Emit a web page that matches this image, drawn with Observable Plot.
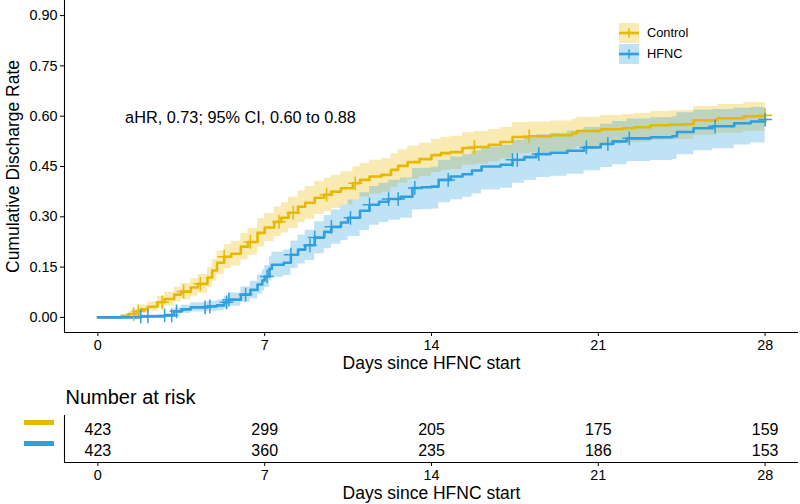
<!DOCTYPE html>
<html><head><meta charset="utf-8">
<script src="https://cdn.jsdelivr.net/npm/d3@7"></script>
<script src="https://cdn.jsdelivr.net/npm/@observablehq/plot@0.6"></script>
<style>
body{margin:0;background:#fff;font-family:"Liberation Sans",Arial,sans-serif;}
#wrap{position:relative;width:800px;height:504px;overflow:hidden;}
#wrap svg{display:block;}
#legend{position:absolute;left:619px;top:22px;font-size:12.8px;color:#000;}
#legend .row{display:flex;align-items:center;height:21px;}
#legend .row span{margin-left:8px;}
</style>
</head><body><div id="wrap"></div>
<script>
// ---------- data ----------
const groups = ["Control", "HFNC"];
const xTicks = [0, 7, 14, 21, 28];
const yTicks = [0, 0.15, 0.30, 0.45, 0.60, 0.75, 0.90];

const ctrlTime = [0,0.5,1.0,1.3,1.6,1.8,2.1,2.5,2.8,3.2,3.5,3.9,4.2,4.6,4.8,5.0,5.3,5.6,6.0,6.3,6.7,7.0,7.4,7.7,8.0,8.4,8.7,9.1,9.5,9.8,10.2,10.7,11.0,11.4,11.9,12.3,12.6,13.0,13.5,14.0,14.4,14.8,15.3,15.8,16.4,16.9,17.4,18.1,19.0,19.9,20.1,21.1,22.0,22.5,23.2,24.0,24.6,25.0,26.0,27.1,28.0];
const ctrlRate = [0,0,.005,.01,.018,.024,.032,.045,.055,.068,.077,.089,.10,.119,.14,.163,.181,.19,.211,.225,.252,.268,.285,.297,.312,.33,.342,.357,.366,.375,.385,.40,.41,.42,.425,.44,.452,.463,.472,.484,.49,.493,.505,.508,.515,.523,.538,.54,.543,.549,.556,.561,.564,.567,.573,.575,.576,.588,.594,.60,.603];
const ctrlLo = [0,0,.001,.003,.008,.012,.018,.028,.035,.046,.053,.063,.072,.089,.108,.128,.145,.153,.172,.185,.21,.226,.241,.252,.265,.282,.293,.307,.316,.325,.335,.349,.358,.368,.373,.388,.40,.411,.42,.432,.438,.441,.454,.457,.464,.473,.489,.491,.495,.502,.51,.516,.519,.522,.528,.53,.531,.543,.549,.555,.558];
const ctrlHi = [0,0,.009,.017,.028,.036,.046,.062,.075,.09,.101,.115,.128,.149,.172,.198,.217,.227,.25,.265,.294,.31,.329,.342,.358,.377,.39,.405,.415,.424,.434,.449,.459,.469,.474,.488,.50,.511,.52,.531,.537,.54,.551,.554,.56,.567,.581,.583,.586,.591,.597,.602,.605,.608,.614,.616,.617,.629,.635,.641,.644];

const hfncTime = [0,1.0,1.8,2.8,3.2,3.5,3.9,4.6,5.0,5.3,5.5,6.0,6.4,6.7,6.9,7.0,7.2,7.3,7.8,8.1,8.4,8.7,9.1,9.5,9.8,10.2,10.5,11.0,11.4,11.8,12.2,12.7,13.2,13.6,14.0,14.3,14.8,15.3,15.7,16.1,16.9,17.4,17.9,18.4,19.0,19.7,20.4,21.1,21.6,22.2,23.2,24.1,24.3,25.0,25.8,26.7,27.4,28.0];
const hfncRate = [0,0,.003,.006,.018,.024,.03,.033,.036,.045,.053,.068,.082,.098,.11,.122,.145,.157,.163,.187,.202,.215,.238,.255,.27,.283,.297,.318,.336,.345,.353,.36,.386,.388,.39,.41,.42,.427,.438,.45,.455,.47,.478,.487,.491,.497,.507,.517,.525,.534,.537,.54,.553,.564,.57,.579,.584,.59];
const hfncLo = [0,0,0,.001,.008,.012,.016,.018,.02,.027,.033,.045,.056,.069,.079,.089,.109,.12,.125,.146,.159,.17,.19,.205,.218,.229,.241,.259,.275,.283,.29,.296,.32,.322,.323,.342,.351,.358,.368,.38,.385,.40,.408,.417,.421,.427,.437,.447,.455,.465,.468,.471,.485,.497,.503,.514,.52,.53];
const hfncHi = [0,0,.007,.012,.028,.036,.044,.048,.052,.063,.073,.091,.108,.127,.141,.155,.181,.194,.201,.228,.245,.26,.285,.304,.32,.335,.35,.372,.39,.40,.409,.416,.443,.445,.448,.468,.478,.485,.496,.508,.513,.528,.536,.545,.549,.556,.566,.576,.584,.592,.595,.598,.61,.618,.62,.624,.626,.628];

const ctrlCensor = [1.5,1.7,2.7,3.6,4.3,5.3,6.4,7.6,8.2,9.6,10.8,15.8,18.1,28.0];
const hfncCensor = [1.8,2.1,2.8,3.1,3.3,4.5,4.7,5.4,5.5,6.2,7.1,8.1,8.9,9.1,9.8,10.6,11.4,12.2,12.6,13.3,14.7,17.4,17.6,18.5,20.5,21.4,22.3,25.9,28.0];

const riskTimes = [0, 7, 14, 21, 28];
const riskControl = [423, 299, 205, 175, 159];
const riskHFNC = [423, 360, 235, 186, 153];

const annotation = "aHR, 0.73; 95% CI, 0.60 to 0.88";
const yTitle = "Cumulative Discharge Rate";
const xTitle = "Days since HFNC start";
const riskTitle = "Number at risk";

// ---------- build ----------
const gold = "#E7B800", blue = "#2E9FDF";
const ctrl = ctrlTime.map((t, i) => ({t, v: ctrlRate[i], lo: ctrlLo[i], hi: ctrlHi[i]}));
const hfnc = hfncTime.map((t, i) => ({t, v: hfncRate[i], lo: hfncLo[i], hi: hfncHi[i]}));
function stepAt(times, vals, t) { let v = vals[0]; for (let i = 0; i < times.length; i++) if (times[i] <= t + 1e-9) v = vals[i]; return v; }
const ctrlC = ctrlCensor.map(t => ({t, v: stepAt(ctrlTime, ctrlRate, t)}));
const hfncC = hfncCensor.map(t => ({t, v: stepAt(hfncTime, hfncRate, t)}));
const risk = [
  ...riskTimes.map((t, i) => ({t, group: "Control", n: riskControl[i]})),
  ...riskTimes.map((t, i) => ({t, group: "HFNC", n: riskHFNC[i]}))
];

const font = "'Liberation Sans', Arial, Helvetica, sans-serif";
const xDomain = [-1.4, 29.4];
const yDomain = [-0.045, 0.945];

const main = Plot.plot({
  width: 800, height: 380,
  marginLeft: 64, marginRight: 2, marginTop: 0, marginBottom: 48,
  style: {fontFamily: font, fontSize: "14.4px", color: "#000", background: "transparent", overflow: "visible"},
  x: {domain: xDomain},
  y: {domain: yDomain},
  marks: [
    Plot.areaY(ctrl, {x: "t", y1: "lo", y2: "hi", curve: "step-after", fill: gold, fillOpacity: 0.3}),
    Plot.areaY(hfnc, {x: "t", y1: "lo", y2: "hi", curve: "step-after", fill: blue, fillOpacity: 0.3}),
    Plot.lineY(ctrl, {x: "t", y: "v", curve: "step-after", stroke: gold, strokeWidth: 2.6}),
    Plot.lineY(hfnc, {x: "t", y: "v", curve: "step-after", stroke: blue, strokeWidth: 2.6}),
    Plot.dot(ctrlC, {x: "t", y: "v", symbol: "plus", r: 4.5, stroke: gold, strokeWidth: 1.5}),
    Plot.dot(hfncC, {x: "t", y: "v", symbol: "plus", r: 4.5, stroke: blue, strokeWidth: 1.5}),
    Plot.ruleX([xDomain[0]], {stroke: "#000", strokeWidth: 1.1}),
    Plot.ruleY([yDomain[0]], {stroke: "#000", strokeWidth: 1.1}),
    Plot.axisX({ticks: xTicks, tickSize: 4, tickPadding: 3, label: null, fontSize: 14.4}),
    Plot.axisY({ticks: yTicks, tickFormat: d3.format(".2f"), tickSize: 4, tickPadding: 3, label: null, fontSize: 14.4}),
    Plot.text([yTitle], {frameAnchor: "left", textAnchor: "middle", lineAnchor: "middle", rotate: -90, dx: -51, fontSize: 17.5}),
    Plot.text([xTitle], {frameAnchor: "bottom", textAnchor: "middle", lineAnchor: "middle", dy: 31, fontSize: 17.5}),
    Plot.text([annotation], {frameAnchor: "top-left", textAnchor: "middle", lineAnchor: "middle", dx: 176, dy: 117, fontSize: 16.3})
  ]
});

const table = Plot.plot({
  width: 800, height: 124,
  marginLeft: 64, marginRight: 2, marginTop: 35, marginBottom: 42,
  style: {fontFamily: font, fontSize: "14.4px", color: "#000", background: "transparent", overflow: "visible"},
  x: {domain: xDomain},
  y: {type: "point", domain: groups, range: [49, 70], padding: 0, axis: null},
  marks: [
    Plot.text(risk, {x: "t", y: "group", text: "n", fontSize: 16}),
    Plot.ruleY(["Control"], {stroke: gold, strokeWidth: 5, dx: -40, dy: -7, insetRight: 704}),
    Plot.ruleY(["HFNC"], {stroke: blue, strokeWidth: 5, dx: -40, dy: -7, insetRight: 704}),
    Plot.ruleX([xDomain[0]], {stroke: "#000", strokeWidth: 1.1}),
    Plot.ruleY([groups[1]], {stroke: "#000", strokeWidth: 1.1, dy: 12}),
    Plot.axisX({ticks: xTicks, tickSize: 4, tickPadding: 3, label: null, fontSize: 14.4}),
    Plot.text([riskTitle], {frameAnchor: "top-left", textAnchor: "start", lineAnchor: "middle", dx: 1, dy: -18, fontSize: 20}),
    Plot.text([xTitle], {frameAnchor: "bottom", textAnchor: "middle", lineAnchor: "middle", dy: 31, fontSize: 17.5})
  ]
});

const wrap = document.getElementById("wrap");
wrap.appendChild(main);
wrap.appendChild(table);

// legend
const legend = document.createElement("div");
legend.id = "legend";
[["Control", gold], ["HFNC", blue]].forEach(([name, col]) => {
  const row = document.createElement("div");
  row.className = "row";
  row.innerHTML = `<svg width="20" height="20" viewBox="0 0 20 20"><rect width="20" height="20" fill="${col}" fill-opacity="0.3"></rect><line x1="0" x2="20" y1="10" y2="10" stroke="${col}" stroke-width="2.6"></line><path d="M10 5.5V14.5M5.5 10H14.5" stroke="${col}" stroke-width="1.5"></path></svg><span>${name}</span>`;
  legend.appendChild(row);
});
wrap.appendChild(legend);
</script>
</body></html>
